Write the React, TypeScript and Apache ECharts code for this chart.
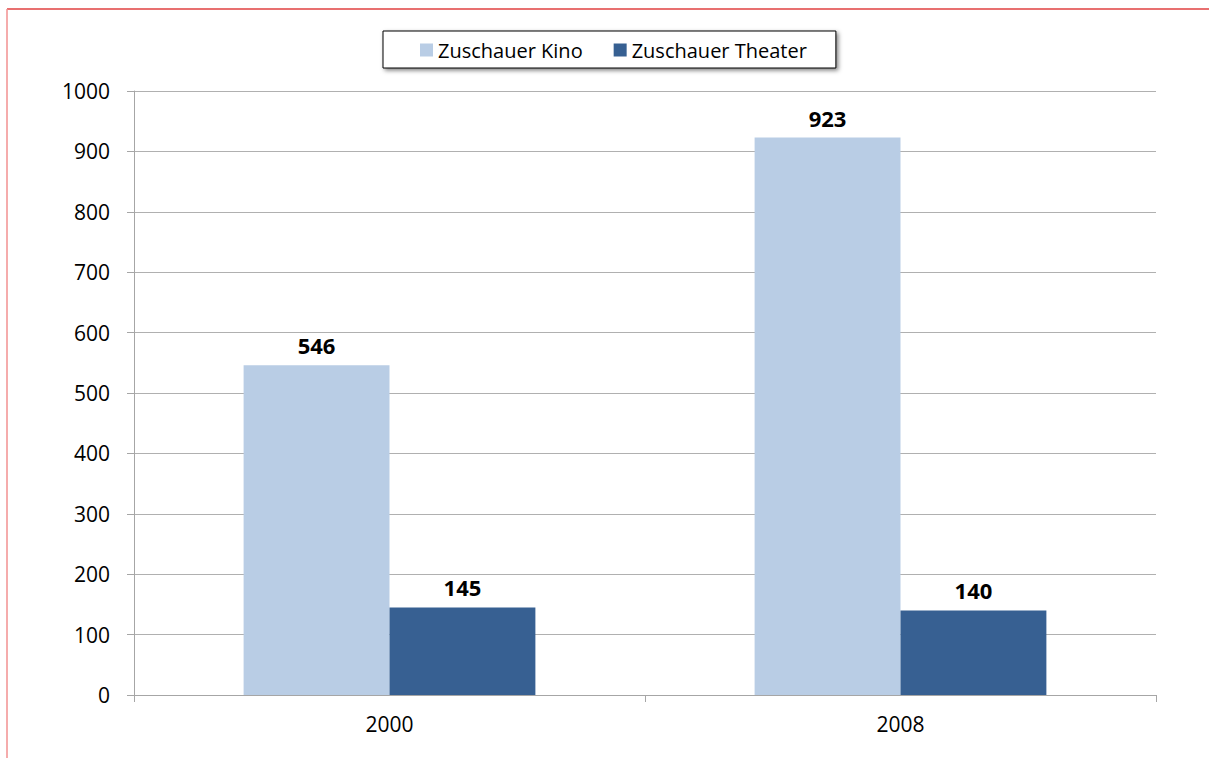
import React, { useEffect, useRef } from "react";
import * as echarts from "echarts";

const categories = ["2000", "2008"];
const kino = [546, 923];
const theater = [145, 140];
const seriesNames = ["Zuschauer Kino", "Zuschauer Theater"];

export default function App() {
  const ref = useRef<HTMLDivElement>(null);
  useEffect(() => {
    if (!ref.current) return;
    const chart = echarts.init(ref.current, null, { renderer: "svg" });
    const font = "'Open Sans', sans-serif";
    const labelStyle = {
      show: true,
      position: "top",
      distance: 9,
      fontFamily: font,
      fontWeight: "bold",
      fontSize: 22,
      color: "#000",
      backgroundColor: "#fff",
      padding: [0, 7, 0, 7],
    };
    chart.setOption({
      animation: false,
      textStyle: { fontFamily: font },
      graphic: [
        { type: "line", shape: { x1: 7, y1: 9, x2: 1209, y2: 9 }, style: { stroke: "#e04040", lineWidth: 1.5 } },
        { type: "line", shape: { x1: 7, y1: 9, x2: 7, y2: 758 }, style: { stroke: "#f29090", lineWidth: 1.5 } },
      ],
      legend: {
        top: 31,
        left: 383,
        data: seriesNames,
        itemWidth: 13,
        itemHeight: 13,
        itemGap: 31,
        padding: [9, 29, 8, 37],
        borderColor: "#000",
        borderWidth: 1,
        backgroundColor: "#fff",
        shadowBlur: 4,
        shadowColor: "rgba(0,0,0,0.5)",
        shadowOffsetX: 2,
        shadowOffsetY: 2,
        textStyle: { fontFamily: font, fontSize: 20, color: "#000" },
        icon: "rect",
      },
      grid: { left: 134, right: 53, top: 91, bottom: 63 },
      xAxis: {
        type: "category",
        data: categories,
        axisLine: { lineStyle: { color: "#a6a6a6" } },
        axisTick: { show: true, length: 7, lineStyle: { color: "#a6a6a6" } },
        axisLabel: { fontFamily: font, fontSize: 21, color: "#000", margin: 18 },
      },
      yAxis: {
        type: "value",
        min: 0,
        max: 1000,
        interval: 100,
        axisLine: { show: true, lineStyle: { color: "#a6a6a6" } },
        axisTick: { show: true, length: 7, lineStyle: { color: "#a6a6a6" } },
        splitLine: { lineStyle: { color: "#b0b0b0" } },
        axisLabel: { fontFamily: font, fontSize: 21, color: "#000", margin: 24, formatter: (v: number) => String(v) },
      },
      series: [
        {
          name: seriesNames[0],
          type: "bar",
          data: kino,
          itemStyle: { color: "#b9cde5" },
          barGap: "0%",
          barCategoryGap: "42.9%",
          label: labelStyle,
        },
        {
          name: seriesNames[1],
          type: "bar",
          data: theater,
          itemStyle: { color: "#376092" },
          barGap: "0%",
          barCategoryGap: "42.9%",
          label: labelStyle,
        },
      ],
    });
    return () => chart.dispose();
  }, []);
  return (
    <div
      ref={ref}
      style={{ position: "fixed", left: 0, top: 0, width: 1209, height: 758, background: "#fff" }}
    />
  );
}
